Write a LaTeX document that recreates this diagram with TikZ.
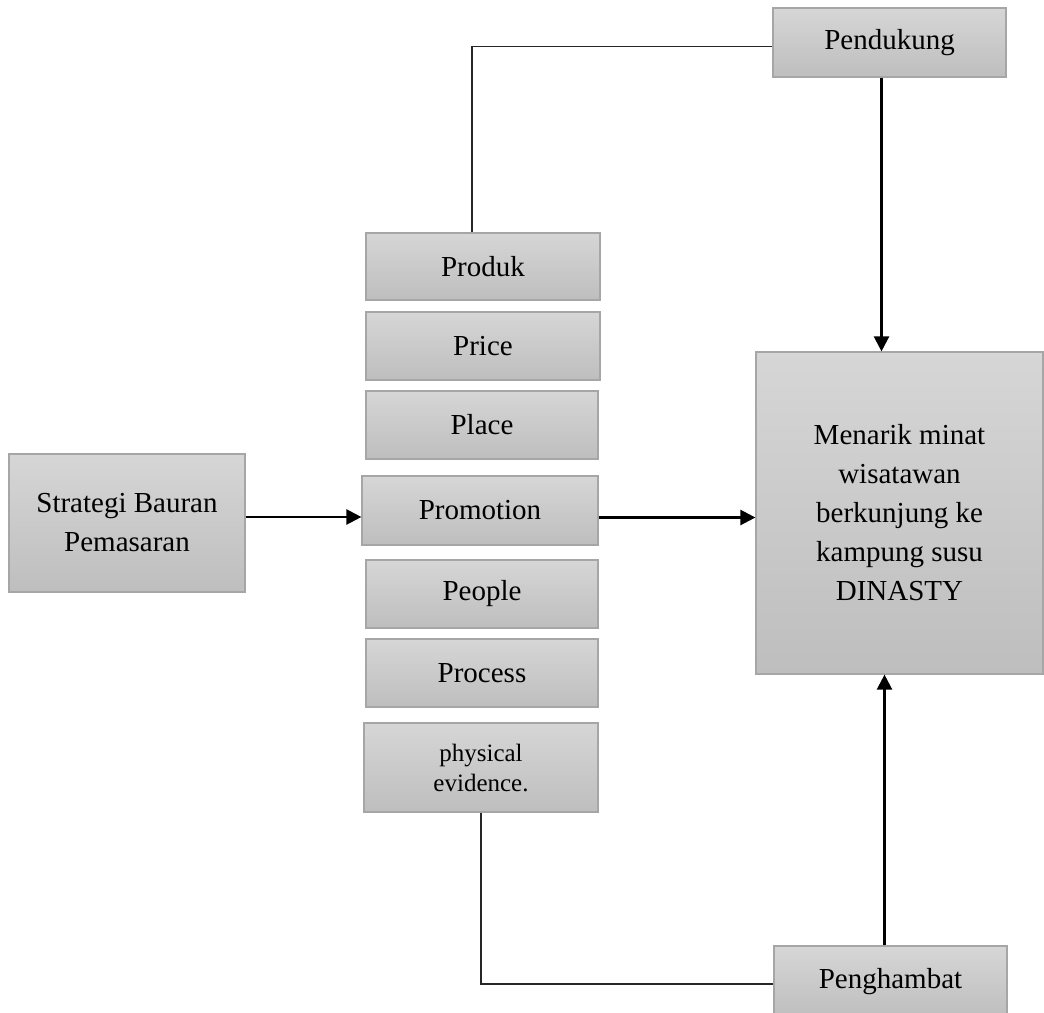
\documentclass[tikz,border=0pt]{standalone}
\usepackage{fontspec}
\setmainfont{Liberation Serif}
\usepackage{tikz}
\usetikzlibrary{arrows.meta, calc}
\definecolor{boxtop}{HTML}{D6D6D6}
\definecolor{boxbot}{HTML}{BEBEBE}
\definecolor{boxline}{HTML}{A6A6A6}
\tikzset{
  mixbox/.style={draw=boxline, line width=1.2pt, top color=boxtop, bottom color=boxbot,
    align=center, inner sep=0pt, font=\fontsize{29}{39}\selectfont},
  link/.style={line width=1.4pt, draw=black!85},
  flow/.style={line width=2.4pt, ->}
}
\begin{document}
\begin{tikzpicture}[x=1pt,y=-1pt,>={Triangle[length=15pt,width=15pt]}]
\useasboundingbox (0,0) rectangle (1044,1012);
\node [mixbox,minimum width=233pt,minimum height=69pt]  (Pendukung)  at (889.5,42.5) {Pendukung};
\node [mixbox,minimum width=234pt,minimum height=67pt]  (Produk)     at (483,266.5)  {Produk};
\node [mixbox,minimum width=234pt,minimum height=68pt]  (Price)      at (483,346)    {Price};
\node [mixbox,minimum width=232pt,minimum height=68pt]  (Place)      at (482,425)    {Place};
\node [mixbox,minimum width=236pt,minimum height=69pt]  (Promotion)  at (480,510.5)  {Promotion};
\node [mixbox,minimum width=232pt,minimum height=68pt]  (People)     at (482,594)    {People};
\node [mixbox,minimum width=232pt,minimum height=68pt]  (Process)    at (482,673)    {Process};
\node [mixbox,minimum width=234pt,minimum height=89pt,font=\fontsize{25}{30}\selectfont]
      (Physical) at (481,767.5) {physical\\evidence.};
\node [mixbox,minimum width=236pt,minimum height=138pt] (Strategi)   at (127,523)    {Strategi Bauran\\Pemasaran};
\node [mixbox,minimum width=287pt,minimum height=322pt] (Menarik)    at (899.5,513)
      {Menarik minat\\wisatawan\\berkunjung ke\\kampung susu\\DINASTY};
\node [mixbox,minimum width=233pt,minimum height=72pt]  (Penghambat) at (890.5,982)  {Penghambat};
% connectors
\draw [link] ([xshift=-11pt]Produk.north) |- ([yshift=-4pt]Pendukung.west);
\draw [link] (Physical.south) |- ([yshift=-2pt]Penghambat.west);
\draw [flow] ([xshift=-8pt]Pendukung.south) -- ([xshift=-8pt]Pendukung.south |- Menarik.north);
\draw [flow] ([yshift=6pt]Strategi.east) -- ([yshift=6pt]Strategi.east -| Promotion.west);
\draw [flow] ([yshift=-7pt]Promotion.east) -- ([yshift=-7pt]Promotion.east -| Menarik.west);
\draw [flow] ([xshift=-6pt]Penghambat.north) -- ([xshift=-6pt]Penghambat.north |- Menarik.south);
\end{tikzpicture}
\end{document}
